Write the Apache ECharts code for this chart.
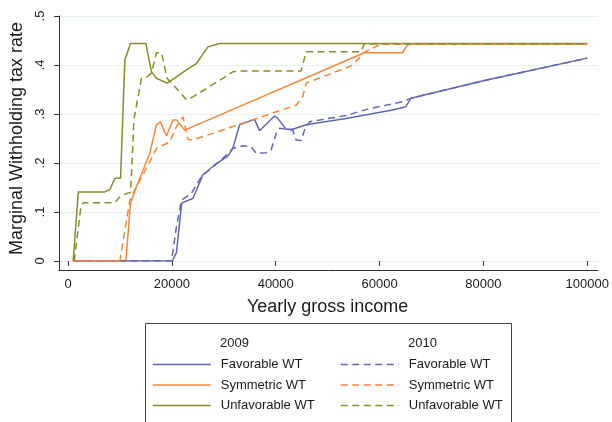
<!DOCTYPE html>
<html><head><meta charset="utf-8">
<script src="https://cdn.jsdelivr.net/npm/echarts@6/dist/echarts.min.js"></script>
<style>html,body{margin:0;padding:0;background:#fff}#c{width:612px;height:422px}</style>
</head><body><div id="c"></div>
<script>
// ---- data ----
const xTickLabels = ['0', '20000', '40000', '60000', '80000', '100000'];
const yTickLabels = ['0', '.1', '.2', '.3', '.4', '.5'];
const legendNames = ['Favorable WT', 'Symmetric WT', 'Unfavorable WT'];
const legendYears = ['2009', '2010'];
const xTitle = 'Yearly gross income';
const yTitle = 'Marginal Withholding tax rate';

const fav2009 = [[1000,0],[20070,0],[20880,0.017],[21900,0.118],[24070,0.128],[25990,0.176],[28240,0.196],[30790,0.214],[31750,0.230],[33040,0.278],[35920,0.289],[36880,0.266],[39760,0.296],[40400,0.291],[42010,0.269],[43280,0.269],[45850,0.278],[53540,0.291],[62490,0.308],[65060,0.315],[66020,0.332],[80000,0.368],[100000,0.414]];
const sym2009 = [[1000,0],[11140,0],[12040,0.118],[13200,0.152],[15750,0.220],[17040,0.278],[17810,0.284],[18960,0.255],[20230,0.288],[20880,0.288],[22480,0.267],[57050,0.425],[64410,0.425],[65370,0.441],[66000,0.443],[100000,0.443]];
const unfav2009 = [[1000,0],[1980,0.141],[7100,0.141],[8070,0.146],[9030,0.169],[10120,0.169],[10950,0.410],[12040,0.444],[14980,0.444],[16080,0.386],[17040,0.373],[19080,0.363],[20550,0.373],[22800,0.390],[24720,0.403],[26950,0.437],[29200,0.444],[100000,0.444]];
const fav2010 = [[1000,0],[19920,0],[20880,0.07],[21840,0.124],[23760,0.138],[25680,0.172],[27910,0.192],[30490,0.216],[31750,0.230],[33680,0.235],[35290,0.233],[36250,0.220],[38170,0.221],[39130,0.227],[40090,0.261],[40730,0.271],[43280,0.267],[43930,0.247],[44900,0.246],[45530,0.267],[46500,0.284],[53540,0.297],[57700,0.31],[64400,0.325],[66020,0.332],[80000,0.368],[100000,0.414]];
const sym2010 = [[1000,0],[9990,0],[11910,0.124],[12870,0.145],[15430,0.196],[17040,0.230],[19590,0.243],[20880,0.274],[22150,0.294],[23110,0.248],[24070,0.247],[43930,0.318],[45200,0.335],[45850,0.363],[54500,0.398],[56090,0.414],[56730,0.424],[59930,0.441],[60500,0.443],[100000,0.443]];
const unfav2010 = [[1200,0],[2500,0.112],[3000,0.119],[9030,0.119],[9990,0.131],[11590,0.139],[12040,0.14],[12550,0.25],[12680,0.288],[14150,0.373],[15240,0.376],[16080,0.384],[17040,0.425],[18000,0.425],[19080,0.373],[20550,0.356],[22800,0.329],[24070,0.335],[26640,0.352],[31750,0.386],[33040,0.388],[44900,0.388],[45850,0.427],[56420,0.427],[57050,0.443],[100000,0.443]];

// ---- style ----
const FONT = '"Liberation Sans", Arial, Helvetica, sans-serif';
const BLUE = '#6266b0', ORANGE = '#f4873a', OLIVE = '#8a8a2e';
const DASH = [7, 4.5];
const TXT = '#1a1a1a';

function mkSeries(name, data, color, dashed) {
  return {
    type: 'line', name: name, data: data, xAxisIndex: 1, yAxisIndex: 1,
    showSymbol: false, symbol: 'none', animation: false, silent: true,
    lineStyle: { color: color, width: 1.5, type: dashed ? DASH : 'solid' },
    itemStyle: { color: color }
  };
}
const n2010 = legendNames.map(n => n + ' (2010)');
const legendCommon = {
  top: 358, orient: 'vertical', padding: 0, itemWidth: 58, itemHeight: 14, itemGap: 7.5,
  selectedMode: false,
  itemStyle: { color: 'rgba(0,0,0,0)', borderColor: 'rgba(0,0,0,0)', borderWidth: 0, opacity: 0 },
  lineStyle: { width: 1.5 },
  textStyle: { fontSize: 13, color: TXT, fontFamily: FONT, padding: [0, 0, 0, 5] }
};

const chart = echarts.init(document.getElementById('c'), null, { renderer: 'canvas' });
chart.setOption({
  animation: false,
  backgroundColor: '#fff',
  textStyle: { fontFamily: FONT },
  grid: [
    { left: 59, right: 14, top: 16, bottom: 161 },
    { left: 68, right: 23.3, top: 16, bottom: 161 },
    { left: 59, right: 14, top: 16, bottom: 152 }
  ],
  xAxis: [
    { gridIndex: 0, type: 'value', min: 0, max: 1, show: false },
    { gridIndex: 1, type: 'value', min: 0, max: 100000, interval: 20000, offset: 9,
      axisLine: { show: false },
      axisTick: { show: true, length: 5, lineStyle: { color: '#333', width: 1 } },
      axisLabel: { margin: 8, fontSize: 13, color: TXT, fontFamily: FONT,
        formatter: v => xTickLabels[Math.round(v / 20000)] },
      splitLine: { show: false },
      name: xTitle, nameLocation: 'middle', nameGap: 28,
      nameTextStyle: { fontSize: 18, color: TXT, fontFamily: FONT } },
    { gridIndex: 2, type: 'value', min: 0, max: 1,
      axisLine: { show: true, lineStyle: { color: '#333', width: 1 } },
      axisTick: { show: false }, axisLabel: { show: false }, splitLine: { show: false } }
  ],
  yAxis: [
    { gridIndex: 0, type: 'value', min: 0, max: 0.5, interval: 0.1,
      axisLine: { show: false },
      axisTick: { show: true, length: 5, lineStyle: { color: '#333', width: 1 } },
      axisLabel: { rotate: 90, margin: 12, fontSize: 13, color: TXT, fontFamily: FONT,
        formatter: v => yTickLabels[Math.round(v * 10)] },
      splitLine: { show: true, lineStyle: { color: '#e8f0f0', width: 1 } },
      name: yTitle, nameLocation: 'middle', nameGap: 33, nameRotate: 90,
      nameTextStyle: { fontSize: 18, color: TXT, fontFamily: FONT } },
    { gridIndex: 1, type: 'value', min: 0, max: 0.5, show: false },
    { gridIndex: 2, type: 'value', min: 0, max: 1,
      axisLine: { show: true, lineStyle: { color: '#333', width: 1 } },
      axisTick: { show: false }, axisLabel: { show: false }, splitLine: { show: false } }
  ],
  legend: [
    Object.assign({}, legendCommon, { left: 152, data: legendNames }),
    Object.assign({}, legendCommon, { left: 340, data: n2010, formatter: n => n.replace(' (2010)', '') })
  ],
  graphic: [
    { type: 'rect', silent: true, shape: { x: 145.5, y: 323.5, width: 366, height: 140 },
      style: { fill: 'none', stroke: '#444', lineWidth: 1 } },
    { type: 'text', silent: true, x: 220, y: 343,
      style: { text: legendYears[0], fontSize: 13, fontFamily: FONT, fill: TXT, verticalAlign: 'middle' } },
    { type: 'text', silent: true, x: 408, y: 343,
      style: { text: legendYears[1], fontSize: 13, fontFamily: FONT, fill: TXT, verticalAlign: 'middle' } }
  ],
  series: [
    mkSeries(legendNames[0], fav2009, BLUE, false),
    mkSeries(legendNames[1], sym2009, ORANGE, false),
    mkSeries(legendNames[2], unfav2009, OLIVE, false),
    mkSeries(n2010[0], fav2010, BLUE, true),
    mkSeries(n2010[1], sym2010, ORANGE, true),
    mkSeries(n2010[2], unfav2010, OLIVE, true)
  ]
});
</script></body></html>
